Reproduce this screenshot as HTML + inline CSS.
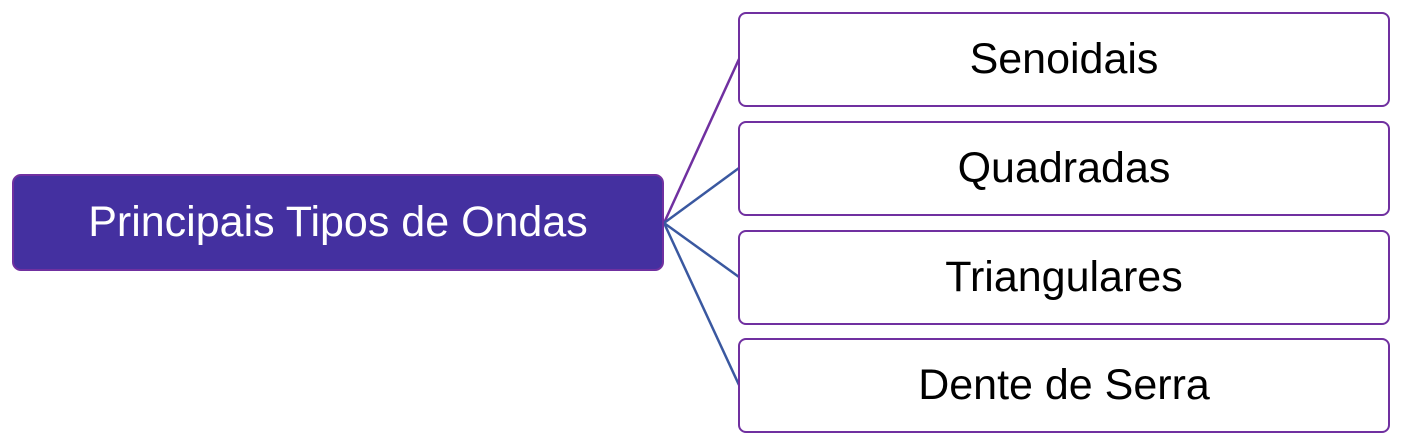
<!DOCTYPE html>
<html><head><style>
body{margin:0;width:1404px;height:448px;background:#fff;position:relative;overflow:hidden;font-family:"Liberation Sans",sans-serif}
.c{position:absolute;left:12px;top:174px;width:648px;height:93px;background:#4430a0;border:2px solid #7030a0;border-radius:9px;color:#fff;font-size:43px;display:flex;align-items:center;justify-content:center;box-sizing:content-box}
.b{position:absolute;left:738px;width:648px;height:91px;background:#fff;border:2.5px solid #7030a0;border-radius:8px;color:#000;font-size:43px;display:flex;align-items:center;justify-content:center}
svg{position:absolute;left:0;top:0}
</style></head><body>
<svg width="1404" height="448">
<line x1="664" y1="223" x2="739" y2="59" stroke="#7030a0" stroke-width="2.5"/>
<line x1="664" y1="223" x2="739" y2="168" stroke="#3a58a0" stroke-width="2.5"/>
<line x1="664" y1="223" x2="739" y2="277" stroke="#3a58a0" stroke-width="2.5"/>
<line x1="664" y1="223" x2="739" y2="385" stroke="#3a58a0" stroke-width="2.5"/>
</svg>
<div class="c">Principais Tipos de Ondas</div>
<div class="b" style="top:12px">Senoidais</div>
<div class="b" style="top:121px">Quadradas</div>
<div class="b" style="top:230px">Triangulares</div>
<div class="b" style="top:338px">Dente de Serra</div>
</body></html>
